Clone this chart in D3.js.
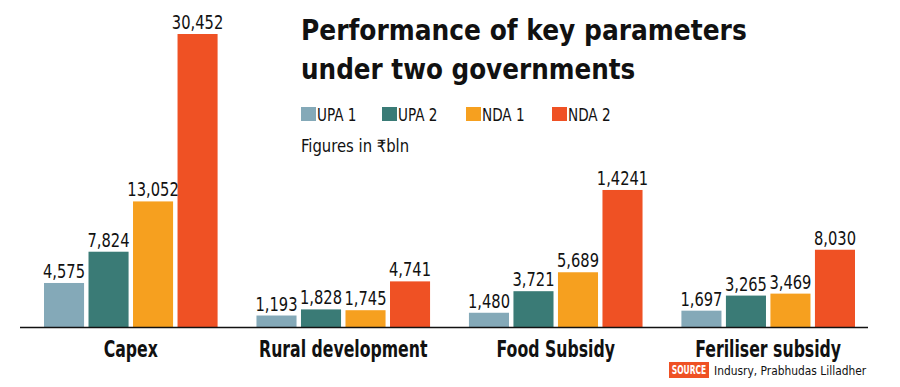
<!DOCTYPE html>
<html lang="en">
<head>
<meta charset="UTF-8">
<title>Performance of key parameters</title>
<script src="https://d3js.org/d3.v7.min.js"></script>
<style>
  body { margin: 0; background: #ffffff; }
  svg text { font-family: "DejaVu Sans Condensed", "DejaVu Sans", sans-serif; fill: #111; }
</style>
</head>
<body>
<svg width="900" height="387"></svg>
<script>
// data (figures in Rs bln)
const categories = ["Capex", "Rural development", "Food Subsidy", "Feriliser subsidy"];
const series = ["UPA 1", "UPA 2", "NDA 1", "NDA 2"];
const colors = ["#84a9b8", "#3a7b76", "#f6a01f", "#ef5124"];
const values = [
  [4575, 7824, 13052, 30452],
  [1193, 1828, 1745, 4741],
  [1480, 3721, 5689, 14241],
  [1697, 3265, 3469, 8030]
];
// labels as printed (the original typo in food subsidy kept)
const valueLabels = [
  ["4,575", "7,824", "13,052", "30,452"],
  ["1,193", "1,828", "1,745", "4,741"],
  ["1,480", "3,721", "5,689", "1,4241"],
  ["1,697", "3,265", "3,469", "8,030"]
];

const svg = d3.select("svg");
const baseY = 327;

// squeeze text horizontally around its own x,y (no condensed font installed)
function squeeze(sel, sx) {
  sel.attr("transform", function() {
    const x = +this.getAttribute("x") || 0, y = +this.getAttribute("y") || 0;
    return `translate(${x},${y}) scale(${sx},1) translate(${-x},${-y})`;
  });
}

const x0 = d3.scaleBand().domain(categories).range([44, 855]).paddingInner(0.183).paddingOuter(0);
const x1 = d3.scaleBand().domain(series).range([0, x0.bandwidth()]).paddingInner(0.1);
const y = d3.scaleLinear().domain([0, 30452]).range([baseY, 34]);
const color = d3.scaleOrdinal().domain(series).range(colors);

// bars
const groups = svg.selectAll(".grp")
  .data(categories)
  .enter().append("g")
  .attr("class", "grp")
  .attr("transform", d => `translate(${x0(d)},0)`);

const cells = (d, i) => series.map((s, j) => ({ s, v: values[i][j], lab: valueLabels[i][j] }));

groups.selectAll("rect")
  .data(cells)
  .enter().append("rect")
  .attr("x", d => x1(d.s))
  .attr("y", d => y(d.v))
  .attr("width", x1.bandwidth())
  .attr("height", d => baseY - y(d.v))
  .attr("fill", d => color(d.s));

groups.selectAll(".val")
  .data(cells)
  .enter().append("text")
  .attr("class", "val")
  .attr("x", d => x1(d.s) + x1.bandwidth() / 2)
  .attr("y", d => y(d.v) - 5)
  .attr("text-anchor", "middle")
  .style("font-size", "19px")
  .text(d => d.lab)
  .call(squeeze, 0.86);

// baseline
svg.append("line")
  .attr("x1", 20).attr("x2", 868)
  .attr("y1", baseY + 0.5).attr("y2", baseY + 0.5)
  .attr("stroke", "#111").attr("stroke-width", 1.5);

// category labels
svg.selectAll(".cat")
  .data(categories)
  .enter().append("text")
  .attr("class", "cat")
  .attr("x", d => x0(d) + x0.bandwidth() / 2)
  .attr("y", 357)
  .attr("text-anchor", "middle")
  .style("font-size", "23px")
  .style("font-weight", "bold")
  .text(d => d)
  .call(squeeze, 0.76);

// title
svg.append("text")
  .attr("x", 301).attr("y", 40)
  .style("font-size", "28px").style("font-weight", "bold")
  .text("Performance of key parameters")
  .call(squeeze, 0.99);
svg.append("text")
  .attr("x", 301).attr("y", 79)
  .style("font-size", "28px").style("font-weight", "bold")
  .text("under two governments")
  .call(squeeze, 0.98);

// legend
const legendX = [301, 382, 466, 552];
const legend = svg.selectAll(".leg")
  .data(series)
  .enter().append("g")
  .attr("class", "leg")
  .attr("transform", (d, i) => `translate(${legendX[i]},107)`);
legend.append("rect")
  .attr("width", 15).attr("height", 14)
  .attr("fill", d => color(d));
legend.append("text")
  .attr("x", 16).attr("y", 14)
  .style("font-size", "18px")
  .text(d => d)
  .call(squeeze, 0.84);

svg.append("text")
  .attr("x", 301).attr("y", 152)
  .style("font-size", "17px")
  .text("Figures in \u20B9bln")
  .call(squeeze, 0.97);

// source
svg.append("rect")
  .attr("x", 669).attr("y", 362)
  .attr("width", 40).attr("height", 16)
  .attr("fill", "#ef5124");
svg.append("text")
  .attr("x", 689).attr("y", 374.5)
  .attr("text-anchor", "middle")
  .style("font-size", "12px").style("font-weight", "bold")
  .style("fill", "#fff")
  .text("SOURCE")
  .call(squeeze, 0.7);
svg.append("text")
  .attr("x", 714).attr("y", 375)
  .style("font-size", "12.5px")
  .text("Indusry, Prabhudas Lilladher")
  .call(squeeze, 0.95);
</script>
</body>
</html>
